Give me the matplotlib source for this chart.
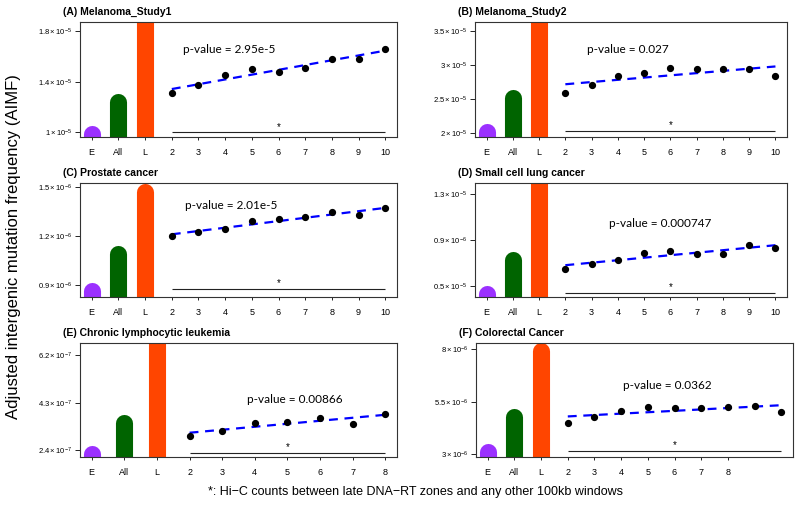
import numpy as np
import matplotlib
matplotlib.use('Agg')
import matplotlib.pyplot as plt

plt.rcParams['font.family'] = 'Liberation Sans'
plt.rcParams['mathtext.fontset'] = 'custom'
plt.rcParams['mathtext.rm'] = 'Liberation Sans'
plt.rcParams['mathtext.it'] = 'Liberation Sans:italic'

# panel titles and p-values
titles = ['(A) Melanoma_Study1', '(B) Melanoma_Study2', '(C) Prostate cancer',
          '(D) Small cell lung cancer', '(E) Chronic lymphocytic leukemia',
          '(F) Colorectal Cancer']
pvals = ['p-value = 2.95e-5', 'p-value = 0.027', 'p-value = 2.01e-5',
         'p-value = 0.000747', 'p-value = 0.00866', 'p-value = 0.0362']

# x labels
labels_10 = ['E', 'All', 'L'] + [str(i) for i in range(2, 11)]
labels_8 = ['E', 'All', 'L'] + [str(i) for i in range(2, 9)]
xlabels = [labels_10, labels_10, labels_10, labels_10, labels_8, labels_8]

# values in units of the panel's power of ten
bars_A = [0.99, 1.24, 2.5]
bars_B = [2.015, 2.507, 4.5]
bars_C = [0.868, 1.089, 1.47]
bars_D = [0.431, 0.725, 2.0]
bars_E = [2.268, 3.508, 8.0]
bars_F = [3.11, 4.756, 7.92]

pts_A = [1.309, 1.375, 1.454, 1.504, 1.478, 1.512, 1.583, 1.583, 1.657]
pts_B = [2.590, 2.699, 2.831, 2.876, 2.945, 2.935, 2.940, 2.940, 2.831]
pts_C = [1.200, 1.226, 1.240, 1.289, 1.305, 1.317, 1.344, 1.325, 1.368]
pts_D = [0.650, 0.696, 0.731, 0.786, 0.809, 0.780, 0.780, 0.858, 0.832]
pts_E = [2.981, 3.178, 3.508, 3.548, 3.693, 3.469, 3.838]
pts_F = [4.503, 4.788, 5.057, 5.231, 5.184, 5.215, 5.247, 5.310, 5.025]

yticks_A = [1.0, 1.4, 1.8]
yticks_B = [2.0, 2.5, 3.0, 3.5]
yticks_C = [0.9, 1.2, 1.5]
yticks_D = [0.5, 0.9, 1.3]
yticks_E = [2.4, 4.3, 6.2]
yticks_F = [3.0, 5.5, 8.0]

ylabels_A = [r'$1\times10^{-5}$', r'$1.4\times10^{-5}$', r'$1.8\times10^{-5}$']
ylabels_B = [r'$2\times10^{-5}$', r'$2.5\times10^{-5}$', r'$3\times10^{-5}$', r'$3.5\times10^{-5}$']
ylabels_C = [r'$0.9\times10^{-6}$', r'$1.2\times10^{-6}$', r'$1.5\times10^{-6}$']
ylabels_D = [r'$0.5\times10^{-5}$', r'$0.9\times10^{-6}$', r'$1.3\times10^{-5}$']
ylabels_E = [r'$2.4\times10^{-7}$', r'$4.3\times10^{-7}$', r'$6.2\times10^{-7}$']
ylabels_F = [r'$3\times10^{-6}$', r'$5.5\times10^{-6}$', r'$8\times10^{-6}$']

ylims = [(0.963, 1.874), (1.936, 3.628), (0.829, 1.522),
         (0.405, 1.398), (2.136, 6.675), (2.858, 8.30)]
star_y = [1.0, 2.03, 0.878, 0.439, 2.294, 3.158]

bars = [bars_A, bars_B, bars_C, bars_D, bars_E, bars_F]
points = [pts_A, pts_B, pts_C, pts_D, pts_E, pts_F]
yticks = [yticks_A, yticks_B, yticks_C, yticks_D, yticks_E, yticks_F]
ylabels = [ylabels_A, ylabels_B, ylabels_C, ylabels_D, ylabels_E, ylabels_F]

bar_colors = ['#9B30FF', '#006400', '#FF4500']

# layout: axes boxes in pixels (left, top, right, bottom) and p-value spots
boxes = [(80, 22, 397, 137), (475, 22, 787, 137),
         (80, 183, 397, 297), (475, 183, 787, 297),
         (80, 343, 397, 457), (476, 343, 793, 457)]
ptext = [(0.325, 0.757), (0.358, 0.757), (0.331, 0.80),
         (0.43, 0.646), (0.527, 0.505), (0.463, 0.629)]

W, H = 800, 511
fig = plt.figure(figsize=(W / 100, H / 100), dpi=100)

for i in range(6):
    l, t, r, b = boxes[i]
    ax = fig.add_axes([l / W, 1 - b / H, (r - l) / W, (b - t) / H])
    n_pos = 3 + len(points[i])
    ext = 0.04 * (n_pos - 1)
    ax.set_xlim(1 - ext, n_pos + ext)
    y0, y1 = ylims[i]
    ax.set_ylim(y0, y1)

    # rounded bars for E / All / L
    bx = np.arange(1, 4)
    lc = ax.vlines(bx, y0 - (y1 - y0), bars[i], colors=bar_colors, lw=12.3)
    lc.set_capstyle('round')

    # trend points + fitted line
    px = np.arange(4, n_pos + 1)
    py = np.array(points[i])
    ax.plot(px, py, 'o', color='black', ms=4.2, zorder=3)
    coef = np.polyfit(px, py, 1)
    ends = px[[0, -1]]
    ax.plot(ends, np.polyval(coef, ends), '--', color='blue', lw=1.6,
            dashes=(4, 3), zorder=2)

    # significance line with star
    ax.hlines(star_y[i], px[0], px[-1], color='#222222', lw=0.8)
    ax.annotate('*', ((px[0] + px[-1]) / 2, star_y[i]), xytext=(0, 0.5),
                textcoords='offset points', ha='center', va='bottom', fontsize=7)

    ax.text(ptext[i][0], ptext[i][1], pvals[i], transform=ax.transAxes,
            ha='left', va='center', fontsize=8.5, family='Lato')
    ax.text(-0.055, 1.09, titles[i], transform=ax.transAxes, ha='left',
            va='center', fontsize=7.5, fontweight='bold')

    ax.set_xticks(np.arange(1, len(xlabels[i]) + 1))
    ax.set_xticklabels(xlabels[i])
    ax.set_yticks(yticks[i])
    ax.set_yticklabels(ylabels[i])
    ax.tick_params(axis='x', length=2, width=0.6, pad=6, labelsize=6.5)
    ax.tick_params(axis='y', length=3.5, width=0.6, pad=2, labelsize=5.5)
    for s in ax.spines.values():
        s.set_linewidth(0.8)
        s.set_color('#333333')

fig.text(14 / W, 1 - 247 / H, 'Adjusted intergenic mutation frequency (AIMF)',
         rotation=90, ha='center', va='center', fontsize=12)
fig.text(416 / W, 1 - 492 / H,
         '*: Hi\u2212C counts between late DNA\u2212RT zones and any other 100kb windows',
         ha='center', va='center', fontsize=9)

fig.savefig('out.png', dpi=100)
